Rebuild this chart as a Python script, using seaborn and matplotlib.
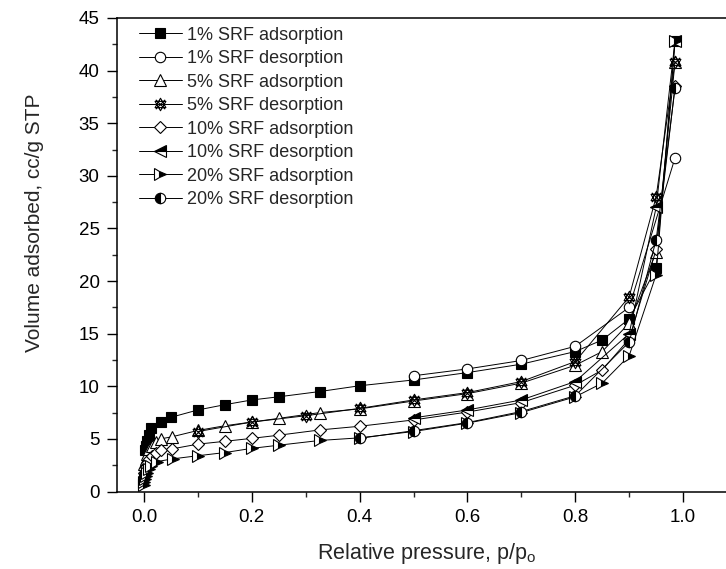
import numpy as np
import pandas as pd
import matplotlib
matplotlib.use("Agg")
import matplotlib.pyplot as plt
from matplotlib.path import Path
from matplotlib.ticker import MultipleLocator
import seaborn as sns

# ---- data ----
x_1_ads = [0.002, 0.004, 0.006, 0.009, 0.013, 0.031, 0.05, 0.1, 0.15, 0.2, 0.25, 0.326,
           0.4, 0.5, 0.6, 0.7, 0.8, 0.85, 0.9, 0.95, 0.985]
y_1_ads = [3.9, 4.3, 4.8, 5.4, 6.0, 6.65, 7.05, 7.75, 8.25, 8.7, 9.0, 9.5,
           10.05, 10.6, 11.3, 12.1, 13.3, 14.4, 16.4, 21.2, 42.8]

x_1_des = [0.5, 0.6, 0.7, 0.8, 0.9, 0.985]
y_1_des = [11.0, 11.65, 12.45, 13.8, 17.5, 31.7]

x_5_ads = [0.001, 0.003, 0.006, 0.01, 0.015, 0.022, 0.031, 0.052, 0.1, 0.15, 0.2, 0.25,
           0.326, 0.4, 0.5, 0.6, 0.7, 0.8, 0.85, 0.9, 0.95, 0.985]
y_5_ads = [2.6, 3.1, 3.6, 4.0, 4.3, 4.7, 5.0, 5.2, 5.8, 6.25, 6.6, 6.95,
           7.5, 7.85, 8.6, 9.3, 10.3, 12.0, 13.3, 16.0, 22.8, 40.8]

x_5_des = [0.1, 0.2, 0.3, 0.4, 0.5, 0.6, 0.7, 0.8, 0.9, 0.95, 0.985]
y_5_des = [5.7, 6.6, 7.2, 7.9, 8.7, 9.4, 10.45, 12.35, 18.5, 28.0, 40.8]

x_10_ads = [0.001, 0.003, 0.006, 0.01, 0.015, 0.022, 0.031, 0.052, 0.1, 0.15, 0.2, 0.25,
            0.326, 0.4, 0.5, 0.6, 0.7, 0.8, 0.85, 0.9, 0.95, 0.985]
y_10_ads = [1.8, 2.3, 2.7, 3.1, 3.4, 3.7, 3.9, 4.05, 4.5, 4.77, 5.05, 5.35,
            5.85, 6.2, 6.8, 7.55, 8.45, 10.1, 11.55, 14.5, 23.0, 38.5]

x_10_des = [0.5, 0.6, 0.7, 0.8, 0.9, 0.95, 0.985]
y_10_des = [7.0, 7.75, 8.7, 10.45, 15.0, 27.0, 42.8]

x_20_ads = [0.0005, 0.001, 0.002, 0.004, 0.006, 0.009, 0.013, 0.025, 0.053, 0.1, 0.15, 0.2,
            0.25, 0.326, 0.4, 0.5, 0.6, 0.7, 0.8, 0.85, 0.9, 0.95, 0.985]
y_20_ads = [0.6, 0.9, 1.2, 1.5, 1.8, 2.1, 2.4, 2.85, 3.1, 3.4, 3.7, 4.1,
            4.4, 4.85, 5.1, 5.7, 6.5, 7.5, 9.0, 10.3, 12.9, 20.6, 42.8]

x_20_des = [0.4, 0.5, 0.6, 0.7, 0.8, 0.9, 0.95, 0.985]
y_20_des = [5.05, 5.78, 6.55, 7.6, 9.1, 14.2, 23.9, 38.3]

labels = ["1% SRF adsorption", "1% SRF desorption", "5% SRF adsorption", "5% SRF desorption",
          "10% SRF adsorption", "10% SRF desorption", "20% SRF adsorption", "20% SRF desorption"]

# star-with-cross marker (two triangles + X)
star_verts = [(0, 1), (-0.866, -0.5), (0.866, -0.5), (0, 1),
              (0, -1), (-0.866, 0.5), (0.866, 0.5), (0, -1),
              (-0.75, -0.75), (0.75, 0.75), (-0.75, 0.75), (0.75, -0.75)]
star_codes = [Path.MOVETO, Path.LINETO, Path.LINETO, Path.CLOSEPOLY,
              Path.MOVETO, Path.LINETO, Path.LINETO, Path.CLOSEPOLY,
              Path.MOVETO, Path.LINETO, Path.MOVETO, Path.LINETO]
star_marker = Path(star_verts, star_codes)

series = [
    (x_1_ads, y_1_ads, dict(marker="s", markersize=6.5, markerfacecolor="black")),
    (x_1_des, y_1_des, dict(marker="o", markersize=7.5, markerfacecolor="white")),
    (x_5_ads, y_5_ads, dict(marker="^", markersize=8, markerfacecolor="white")),
    (x_5_des, y_5_des, dict(marker=star_marker, markersize=9, markerfacecolor="none")),
    (x_10_ads, y_10_ads, dict(marker="D", markersize=6.5, markerfacecolor="white")),
    (x_10_des, y_10_des, dict(marker="<", markersize=8, markerfacecolor="black",
                              fillstyle="top", markerfacecoloralt="white")),
    (x_20_ads, y_20_ads, dict(marker=">", markersize=8, markerfacecolor="black",
                              fillstyle="right", markerfacecoloralt="white")),
    (x_20_des, y_20_des, dict(marker="o", markersize=7.5, markerfacecolor="black",
                              fillstyle="left", markerfacecoloralt="white")),
]

sns.set_style("ticks")
plt.rcParams["font.family"] = ["Liberation Sans", "DejaVu Sans"]
plt.rcParams["mathtext.default"] = "regular"

fig = plt.figure(figsize=(7.26, 5.69), dpi=100)
ax = fig.add_axes([117 / 726, 77.5 / 569, 620 / 726, 473.5 / 569])

for (xs, ys, style), lab in zip(series, labels):
    df = pd.DataFrame({"p": xs, "v": ys})
    sns.lineplot(data=df, x="p", y="v", ax=ax, color="black", linewidth=0.7,
                 markeredgecolor="black", markeredgewidth=0.8, estimator=None,
                 label=lab, **style)

ax.set_xlim(-0.05, 1.1)
ax.set_ylim(0, 45)
ax.xaxis.set_major_locator(MultipleLocator(0.2))
ax.xaxis.set_minor_locator(MultipleLocator(0.1))
ax.yaxis.set_major_locator(MultipleLocator(5))
ax.yaxis.set_minor_locator(MultipleLocator(2.5))
ax.set_xticks([0.0, 0.2, 0.4, 0.6, 0.8, 1.0])
ax.set_xticklabels(["0.0", "0.2", "0.4", "0.6", "0.8", "1.0"])

ax.tick_params(which="major", direction="out", length=7, width=1, labelsize=13.5,
               colors="black", pad=5.5)
ax.tick_params(which="minor", direction="out", length=3.5, width=1)
for sp in ax.spines.values():
    sp.set_visible(True)
    sp.set_linewidth(1.1)
    sp.set_color("black")

ax.set_xlabel("Relative pressure, p/p$_o$", fontsize=15.5, labelpad=11)
ax.set_ylabel("Volume adsorbed, cc/g STP", fontsize=15)
ax.yaxis.set_label_coords(-0.118, 0.567)

ax.legend(loc="upper left", bbox_to_anchor=(0.035, 0.982), frameon=False, fontsize=13,
          handlelength=2.4, handletextpad=0.3, labelspacing=0.36, borderpad=0,
          borderaxespad=0)

fig.savefig("out.png", dpi=100)
